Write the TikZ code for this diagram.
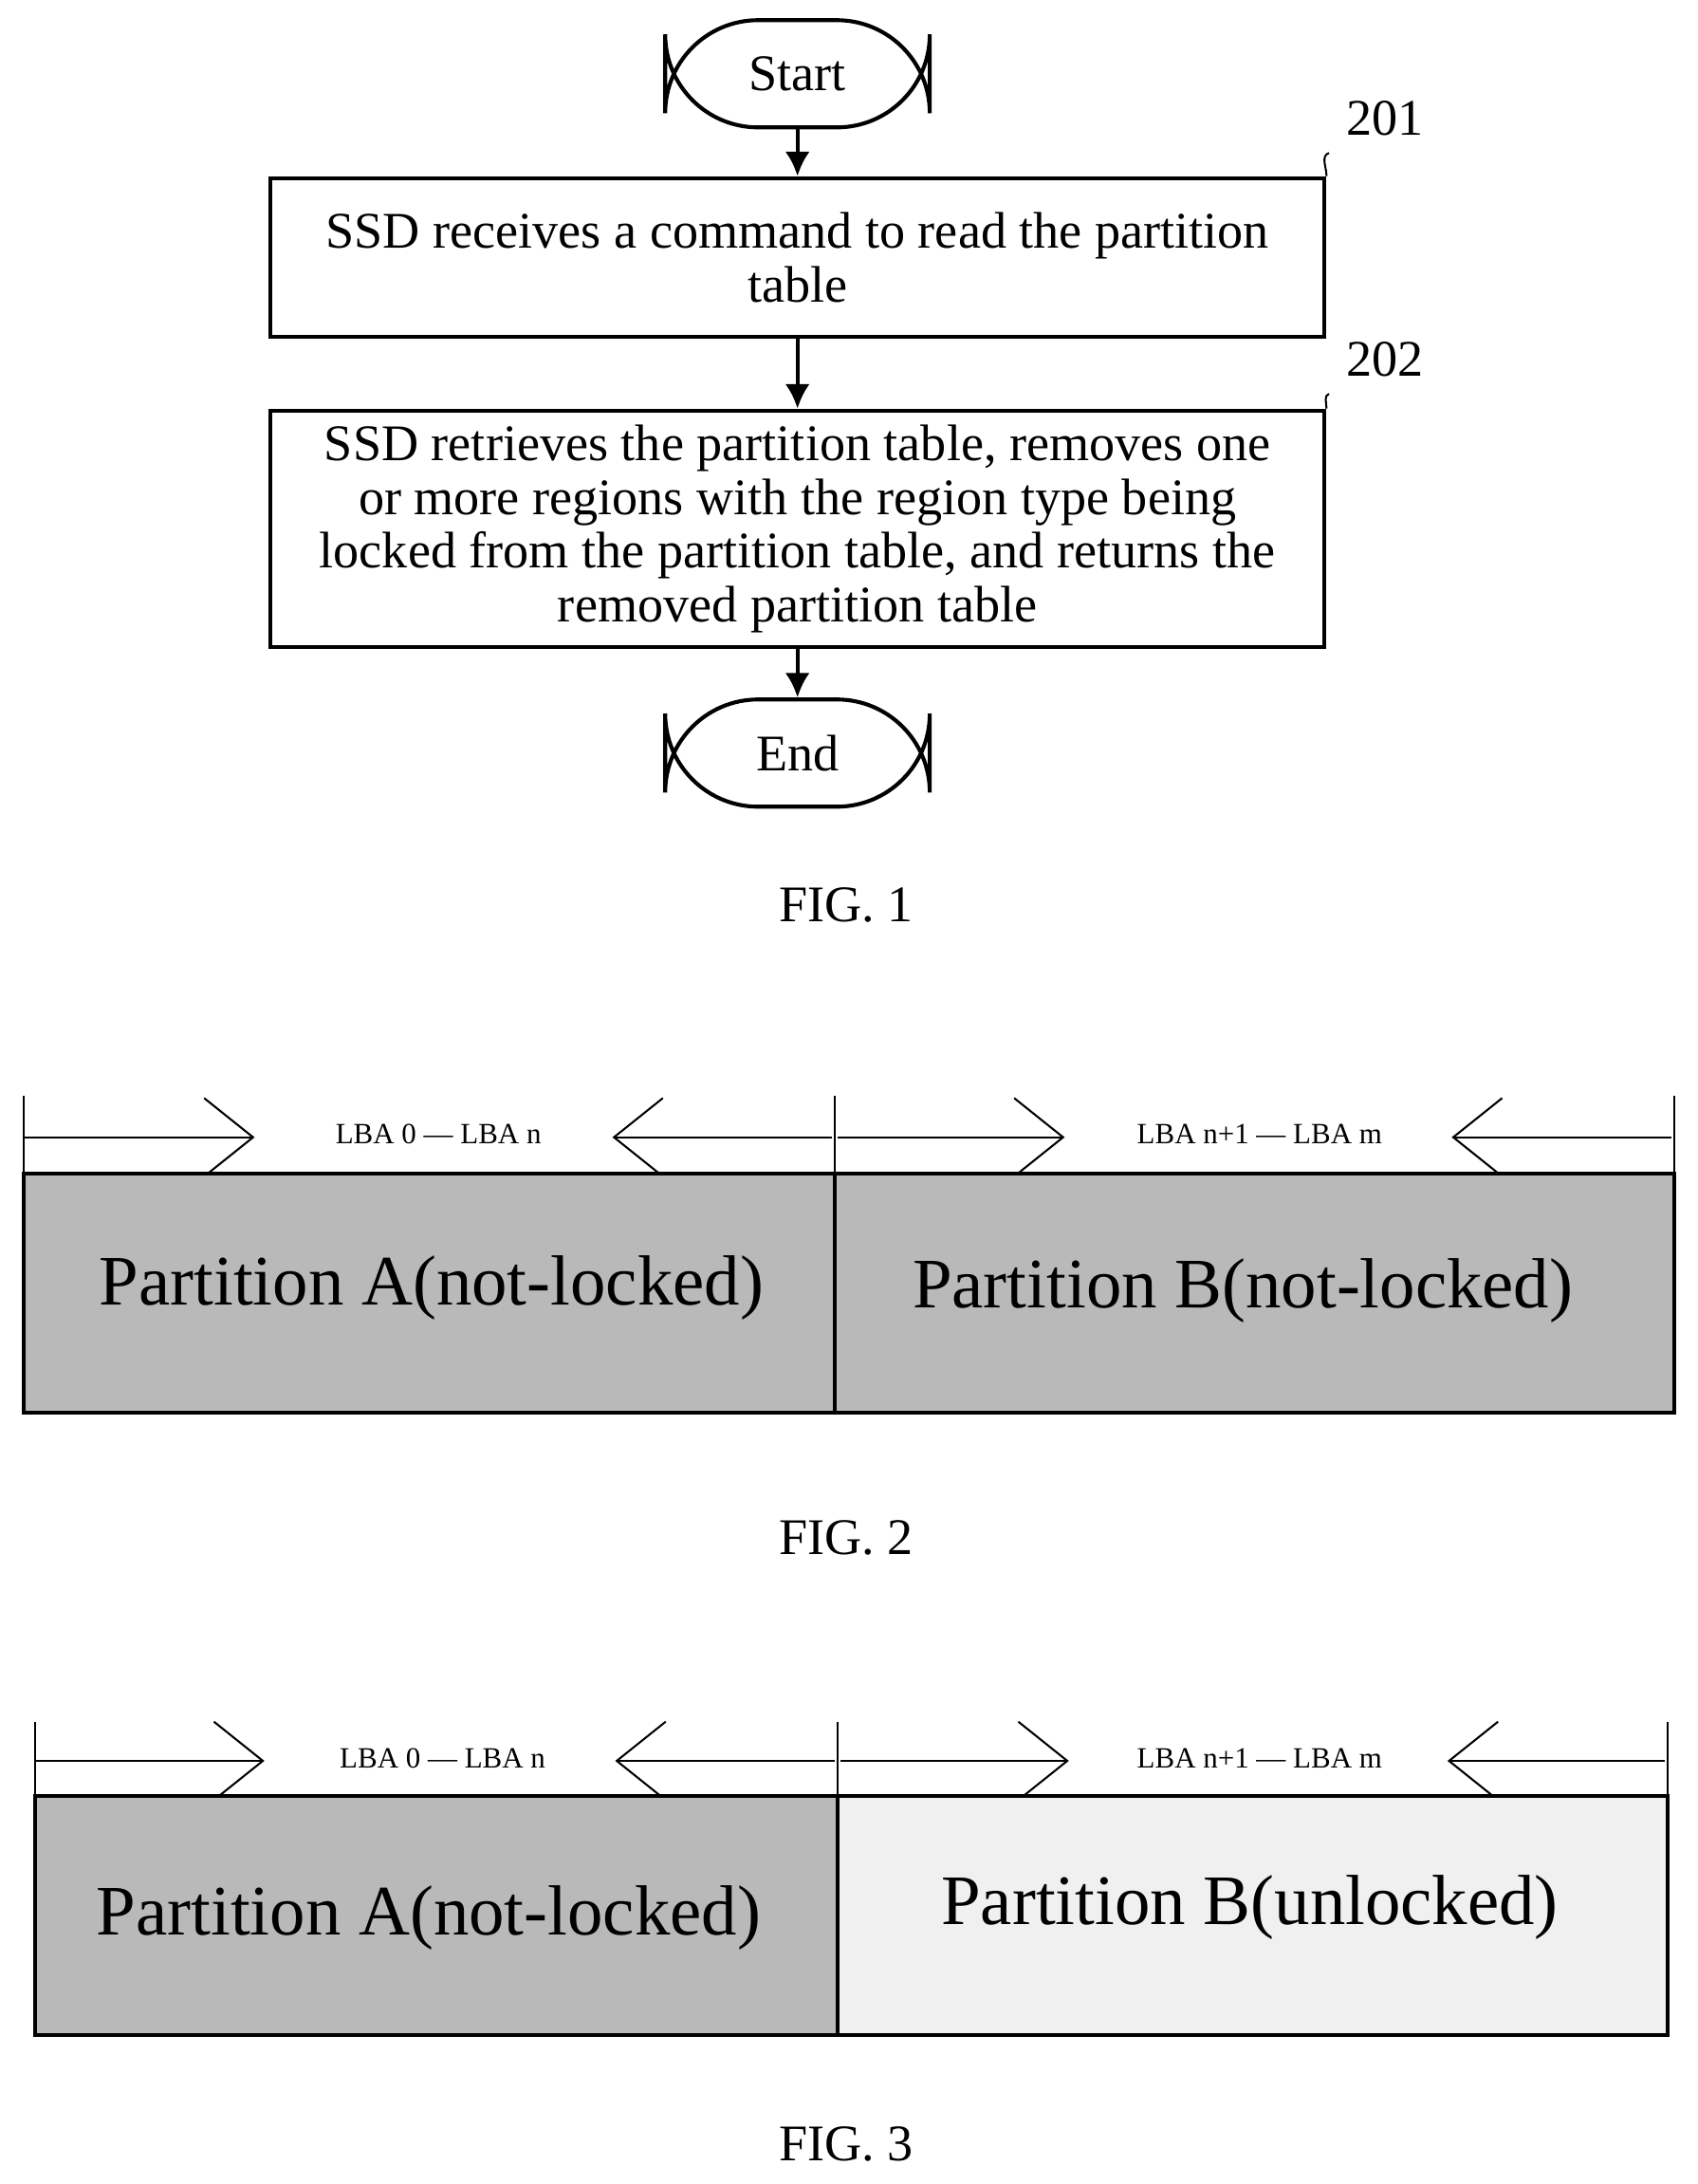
\documentclass[tikz,border=0pt]{standalone}
\usepackage{fontspec}
\setmainfont{Liberation Serif}
\usetikzlibrary{arrows.meta,positioning}
\tikzset{
  term/.style={draw, thick, rounded corners=19pt, minimum width=1.9cm, minimum height=0.77cm},
  procbox/.style={draw, thick, minimum width=7.57cm, align=center, inner sep=0pt},
  flow/.style={thick, -{Latex[length=5pt,width=5pt]}},
  span/.style={thin, -{Straight Barb[length=10pt,width=16pt]}},
  lba/.style={font=\fontsize{6}{7}\selectfont},
  part/.style={font=\fontsize{14.5}{16}\selectfont},
  fig/.style={font=\fontsize{10.5}{12}\selectfont},
}
\begin{document}
\begin{tikzpicture}[x=0.01cm, y=-0.01cm, font=\fontsize{10.5}{11}\selectfont]
  \useasboundingbox (0,0) rectangle (1220,1569);
  % FIG. 1 flow chart
  \node[term] (start) at (573,53) {Start};
  \node[procbox, minimum height=1.14cm] (s201) at (573,185) {SSD receives a command to read the partition\\table};
  \node[procbox, minimum height=1.70cm] (s202) at (573,380) {SSD retrieves the partition table, removes one\\or more regions with the region type being\\locked from the partition table, and returns the\\removed partition table};
  \node[term] (end) at (573,541) {End};
  \draw[flow] (start) -- (s201);
  \draw[flow] (s201) -- (s202);
  \draw[flow] (s202) -- (end);
  \node (n201) at (995,85) {201};
  \node (n202) at (995,258) {202};
  \draw (s201.north east) to[out=90, in=200] (n201.south west);
  \draw (s202.north east) to[out=90, in=200] (n202.south west);
  \node[fig] (fig1) at (608,650) {FIG. 1};
  % FIG. 2
  \foreach \X in {17,600,1203} \draw (\X,787) -- (\X,843);
  \draw[span] (17,817) -- (183,817);
  \draw[span] (598,817) -- (440,817);
  \draw[span] (602,817) -- (765,817);
  \draw[span] (1201,817) -- (1043,817);
  \node[lba] at (315,815) {LBA 0 --- LBA n};
  \node[lba] at (905,815) {LBA n+1 --- LBA m};
  \draw[thick, fill=gray!55] (17,843) rectangle (600,1015);
  \draw[thick, fill=gray!55] (600,843) rectangle (1203,1015);
  \node[part] (a2) at (310,925) {Partition A(not-locked)};
  \node[part] (b2) at (893,927) {Partition B(not-locked)};
  \node[fig] (fig2) at (608,1105) {FIG. 2};
  % FIG. 3
  \foreach \X in {25,602,1198} \draw (\X,1237) -- (\X,1290);
  \draw[span] (25,1265) -- (190,1265);
  \draw[span] (600,1265) -- (442,1265);
  \draw[span] (604,1265) -- (768,1265);
  \draw[span] (1196,1265) -- (1040,1265);
  \node[lba] at (318,1263) {LBA 0 --- LBA n};
  \node[lba] at (905,1263) {LBA n+1 --- LBA m};
  \draw[thick, fill=gray!55] (25,1290) rectangle (602,1462);
  \draw[thick, fill=gray!12] (602,1290) rectangle (1198,1462);
  \node[part] (a3) at (308,1378) {Partition A(not-locked)};
  \node[part] (b3) at (898,1370) {Partition B(unlocked)};
  \node[fig] (fig3) at (608,1540) {FIG. 3};
\end{tikzpicture}
\end{document}
